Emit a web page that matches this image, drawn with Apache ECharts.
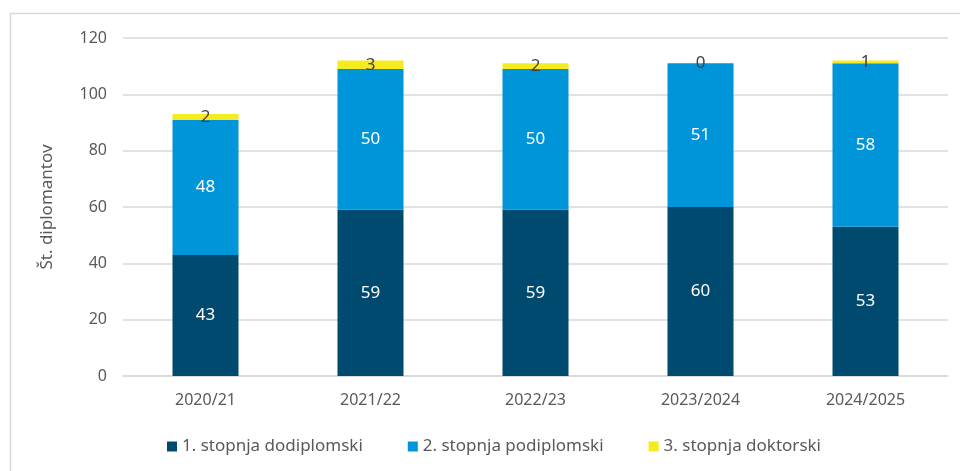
<!DOCTYPE html>
<html>
<head>
<meta charset="utf-8">
<script src="https://cdn.jsdelivr.net/npm/echarts@6/dist/echarts.min.js"></script>
<style>
  html, body { margin: 0; padding: 0; background: #fff; }
  #chart { width: 960px; height: 471px; }
</style>
</head>
<body>
<div id="chart"></div>
<script>
const categories = ['2020/21', '2021/22', '2022/23', '2023/2024', '2024/2025']
const firstLevel = [43, 59, 59, 60, 53]
const secondLevel = [48, 50, 50, 51, 58]
const thirdLevel = [2, 3, 2, 0, 1]
const seriesNames = ['1. stopnja dodiplomski', '2. stopnja podiplomski', '3. stopnja doktorski']

const font = 'Noto Sans'
const myChart = echarts.init(document.getElementById('chart'))

function barSeries(name, data, color, labelColor) {
  return {
    name: name,
    type: 'bar',
    stack: 'total',
    barWidth: '40%',
    data: data,
    itemStyle: { color: color },
    label: {
      show: true,
      position: 'inside',
      color: labelColor,
      fontFamily: font,
      fontSize: 17
    }
  }
}

const option = {
  backgroundColor: '#fff',
  animation: false,
  graphic: [{
    type: 'rect',
    shape: { x: 10.5, y: 13.5, width: 960, height: 470 },
    style: { fill: 'none', stroke: '#d9d9d9', lineWidth: 1.5 },
    silent: true
  }],
  legend: {
    bottom: 11,
    left: 162,
    icon: 'rect',
    itemWidth: 10,
    itemHeight: 10,
    itemGap: 45,
    textStyle: { color: '#595959', fontFamily: font, fontSize: 17 }
  },
  grid: {
    left: 123,
    right: 12,
    top: 38,
    bottom: 95
  },
  xAxis: {
    type: 'category',
    data: categories,
    axisLine: { lineStyle: { color: '#d9d9d9', width: 1.5 } },
    axisTick: { show: false },
    axisLabel: { color: '#595959', fontFamily: font, fontSize: 16, margin: 16 }
  },
  yAxis: {
    type: 'value',
    min: 0,
    max: 120,
    interval: 20,
    name: 'Št. diplomantov',
    nameLocation: 'middle',
    nameGap: 67,
    nameTextStyle: { color: '#595959', fontFamily: font, fontSize: 17 },
    axisLine: { show: false },
    axisTick: { show: false },
    axisLabel: { color: '#595959', fontFamily: font, fontSize: 16, margin: 16 },
    splitLine: { lineStyle: { color: '#d9d9d9', width: 1.5 } }
  },
  series: [
    barSeries(seriesNames[0], firstLevel, '#004a6f', '#fff'),
    barSeries(seriesNames[1], secondLevel, '#0095d9', '#fff'),
    barSeries(seriesNames[2], thirdLevel, '#f6eb1e', '#404040')
  ]
}

myChart.setOption(option)
</script>
</body>
</html>
